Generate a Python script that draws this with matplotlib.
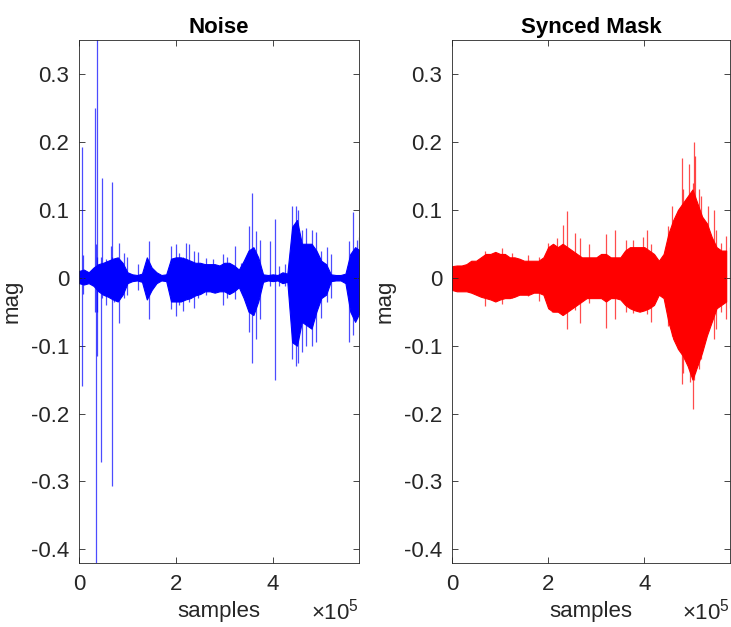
import numpy as np
import matplotlib
matplotlib.use("Agg")
import matplotlib.pyplot as plt

plt.rcParams["font.family"] = ["Liberation Sans", "DejaVu Sans"]
plt.rcParams["mathtext.fontset"] = "custom"
plt.rcParams["mathtext.rm"] = "Liberation Sans"
plt.rcParams["axes.unicode_minus"] = False

# envelope sample positions (samples), one every 10k
k_noise = np.arange(59) * 1e4
k_mask = np.arange(58) * 1e4

# "Noise" core envelope
noise_hi = [0.010, 0.012, 0.008, 0.015, 0.020, 0.022, 0.025, 0.028, 0.030, 0.022,
            0.008, 0.005, 0.004, 0.006, 0.030, 0.015, 0.008, 0.004, 0.005, 0.028,
            0.030, 0.030, 0.028, 0.025, 0.022, 0.022, 0.020, 0.020, 0.020, 0.018,
            0.022, 0.022, 0.018, 0.012, 0.025, 0.040, 0.045, 0.030, 0.005, 0.004,
            0.005, 0.004, 0.008, 0.006, 0.075, 0.085, 0.050, 0.050, 0.050, 0.040,
            0.025, 0.020, 0.005, 0.004, 0.004, 0.006, 0.035, 0.045, 0.040]
noise_lo = [-0.008, -0.010, -0.008, -0.012, -0.020, -0.025, -0.028, -0.032, -0.035, -0.025,
            -0.008, -0.005, -0.004, -0.006, -0.032, -0.018, -0.008, -0.004, -0.005, -0.035,
            -0.035, -0.035, -0.032, -0.030, -0.026, -0.024, -0.020, -0.020, -0.022, -0.020,
            -0.020, -0.024, -0.020, -0.014, -0.030, -0.050, -0.055, -0.035, -0.006, -0.004,
            -0.005, -0.004, -0.008, -0.006, -0.095, -0.100, -0.065, -0.070, -0.075, -0.050,
            -0.030, -0.025, -0.005, -0.004, -0.004, -0.008, -0.050, -0.065, -0.050]

# spikes in "Noise": position, top, bottom
noise_spk_x = [5.6e3, 8e3, 33e3, 34.5e3, 36.6e3, 38e3, 45.5e3, 47e3, 55e3, 67e3,
               68e3, 69e3, 72e3, 83e3, 93e3, 100e3, 121e3, 145e3, 190e3, 200e3,
               207e3, 214e3, 221e3, 228e3, 238e3, 245e3, 262e3, 277e3, 297e3, 306e3,
               321e3, 334e3, 351e3, 357.5e3, 366e3, 373e3, 393.5e3, 404e3, 413e3, 425e3,
               440e3, 447e3, 452e3, 461e3, 469e3, 482e3, 490e3, 500e3, 512e3, 520e3,
               558e3, 566e3, 573e3, 577e3]
noise_spk_hi = [0.193, 0.034, 0.25, 0.05, 0.36, 0.03, 0.03, 0.147, 0.027, 0.046,
                0.03, 0.141, 0.02, 0.051, 0.037, 0.03, 0.02, 0.054, 0.046, 0.05,
                0.037, 0.03, 0.051, 0.049, 0.039, 0.038, 0.029, 0.027, 0.035, 0.03,
                0.047, 0.022, 0.076, 0.125, 0.069, 0.056, 0.054, 0.087, 0.017, 0.02,
                0.105, 0.105, 0.10, 0.071, 0.073, 0.071, 0.068, 0.04, 0.045, 0.035,
                0.054, 0.097, 0.056, 0.06]
noise_spk_lo = [-0.159, -0.024, -0.05, -0.42, -0.05, -0.115, -0.272, -0.03, -0.04, -0.02,
                -0.307, -0.03, -0.035, -0.066, -0.03, -0.025, -0.018, -0.061, -0.046, -0.056,
                -0.04, -0.049, -0.03, -0.036, -0.044, -0.03, -0.025, -0.02, -0.04, -0.03,
                -0.032, -0.017, -0.08, -0.125, -0.09, -0.061, -0.012, -0.15, -0.012, -0.012,
                -0.12, -0.13, -0.125, -0.11, -0.10, -0.10, -0.095, -0.06, -0.035, -0.03,
                -0.095, -0.085, -0.06, -0.05]

# "Synced Mask" core envelope
mask_hi = [0.017, 0.018, 0.018, 0.020, 0.025, 0.025, 0.030, 0.035, 0.035, 0.038,
           0.035, 0.035, 0.030, 0.030, 0.028, 0.025, 0.025, 0.025, 0.025, 0.030,
           0.045, 0.050, 0.045, 0.050, 0.045, 0.040, 0.035, 0.030, 0.030, 0.030,
           0.030, 0.035, 0.035, 0.030, 0.030, 0.030, 0.040, 0.045, 0.045, 0.045,
           0.045, 0.040, 0.035, 0.025, 0.035, 0.065, 0.085, 0.100, 0.110, 0.120,
           0.130, 0.110, 0.090, 0.080, 0.060, 0.045, 0.040, 0.040]
mask_lo = [-0.018, -0.020, -0.020, -0.020, -0.022, -0.025, -0.028, -0.030, -0.032, -0.035,
           -0.032, -0.030, -0.030, -0.028, -0.025, -0.025, -0.025, -0.022, -0.022, -0.025,
           -0.045, -0.050, -0.050, -0.055, -0.050, -0.045, -0.040, -0.035, -0.030, -0.030,
           -0.030, -0.030, -0.035, -0.030, -0.030, -0.032, -0.040, -0.045, -0.048, -0.050,
           -0.048, -0.045, -0.040, -0.025, -0.030, -0.065, -0.090, -0.105, -0.115, -0.130,
           -0.150, -0.130, -0.110, -0.085, -0.065, -0.045, -0.040, -0.035]

mask_spk_x = [69e3, 86e3, 104e3, 124e3, 159e3, 180e3, 200e3, 207e3, 218e3, 230e3,
              239e3, 256e3, 266e3, 284e3, 321e3, 338e3, 362e3, 376e3, 397e3, 406e3,
              413e3, 449e3, 458e3, 470e3, 479e3, 480e3, 492e3, 494e3, 501e3, 503e3,
              506e3, 513e3, 518e3, 532e3, 544e3, 549e3, 560e3, 570e3, 577e3]
mask_spk_hi = [0.039, 0.037, 0.044, 0.037, 0.034, 0.030, 0.051, 0.035, 0.059, 0.078,
               0.098, 0.066, 0.059, 0.050, 0.064, 0.071, 0.056, 0.056, 0.060, 0.071,
               0.050, 0.076, 0.105, 0.100, 0.176, 0.130, 0.167, 0.120, 0.140, 0.200,
               0.179, 0.130, 0.120, 0.105, 0.100, 0.070, 0.051, 0.061, 0.045]
mask_spk_lo = [-0.042, -0.032, -0.039, -0.030, -0.027, -0.034, -0.030, -0.051, -0.042, -0.050,
               -0.076, -0.047, -0.066, -0.037, -0.074, -0.061, -0.050, -0.052, -0.045, -0.054,
               -0.065, -0.071, -0.086, -0.105, -0.157, -0.140, -0.125, -0.154, -0.194, -0.150,
               -0.140, -0.135, -0.120, -0.076, -0.090, -0.076, -0.050, -0.061, -0.045]

panels = [
    ("Noise", k_noise, noise_hi, noise_lo, noise_spk_x, noise_spk_hi, noise_spk_lo,
     (0, 0, 1), [79 / 731, 64 / 627, 280 / 731, 523 / 627]),
    ("Synced Mask", k_mask, mask_hi, mask_lo, mask_spk_x, mask_spk_hi, mask_spk_lo,
     (1, 0, 0), [452 / 731, 64 / 627, 278 / 731, 523 / 627]),
]

fig = plt.figure(figsize=(7.31, 6.27), dpi=100)
dark = (0.15, 0.15, 0.15)

for title, kx, hi, lo, sx, shi, slo, col, rect in panels:
    ax = fig.add_axes(rect)
    ax.fill_between(kx, lo, hi, color=col, linewidth=0.8, edgecolor=col)
    ax.vlines(sx, slo, shi, color=col, linewidth=0.9, alpha=0.7)
    ax.set_xlim(0, 5.78e5)
    ax.set_ylim(-0.42, 0.35)
    ax.set_xticks([0, 2e5, 4e5])
    ax.set_xticklabels(["0", "2", "4"])
    ax.set_yticks(np.round(np.arange(-0.4, 0.31, 0.1), 1))
    ax.set_yticklabels(["-0.4", "-0.3", "-0.2", "-0.1", "0", "0.1", "0.2", "0.3"])
    ax.tick_params(direction="in", length=4, width=0.6, top=True, right=True,
                   labelsize=16, colors=dark)
    ax.tick_params(axis="x", pad=8)
    ax.tick_params(axis="y", pad=7)
    for s in ax.spines.values():
        s.set_color(dark)
        s.set_linewidth(0.6)
    ax.set_title(title, fontsize=16, fontweight="bold", pad=5)
    ax.set_xlabel("samples", fontsize=16, color=dark, labelpad=4)
    ax.set_ylabel("mag", fontsize=16, color=dark, labelpad=6)
    ax.text(1.0, -0.068, r"$\times\mathregular{10^5}$", transform=ax.transAxes,
            ha="right", va="top", fontsize=16, color=dark)

fig.savefig("out.png", dpi=100)
